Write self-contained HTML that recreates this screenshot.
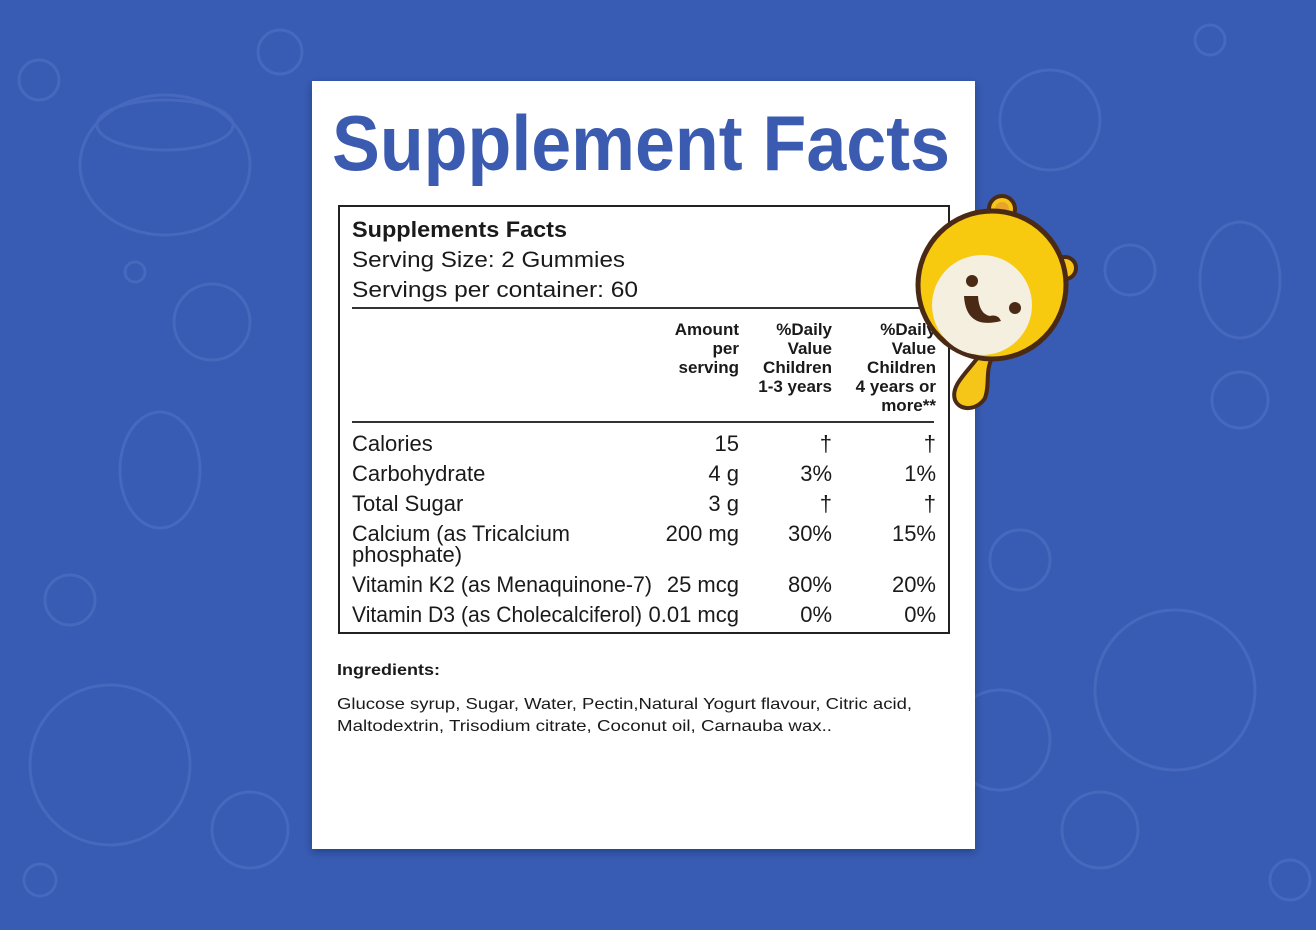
<!DOCTYPE html>
<html><head><meta charset="utf-8"><style>
html,body{margin:0;padding:0;width:1316px;height:930px;overflow:hidden;background:#385cb3}
svg{display:block}
</style></head><body>
<svg width="1316" height="930" viewBox="0 0 1316 930" xmlns="http://www.w3.org/2000/svg">
<defs><filter id="sh" x="-10%" y="-10%" width="120%" height="120%"><feDropShadow dx="0" dy="3" stdDeviation="4" flood-color="#102050" flood-opacity="0.45"/></filter></defs>
<rect width="1316" height="930" fill="#385cb3"/>
<g fill="none" stroke="#4a6cc0" stroke-width="3" opacity="0.8">
<circle cx="39" cy="80" r="20"/><circle cx="280" cy="52" r="22"/><circle cx="135" cy="272" r="10"/>
<ellipse cx="165" cy="165" rx="85" ry="70"/><ellipse cx="165" cy="125" rx="68" ry="25"/>
<circle cx="212" cy="322" r="38"/><circle cx="110" cy="765" r="80"/><circle cx="250" cy="830" r="38"/>
<circle cx="40" cy="880" r="16"/><circle cx="1130" cy="270" r="25"/><circle cx="1175" cy="690" r="80"/>
<circle cx="1100" cy="830" r="38"/><circle cx="1240" cy="400" r="28"/><circle cx="1290" cy="880" r="20"/>
<ellipse cx="1240" cy="280" rx="40" ry="58"/><ellipse cx="160" cy="470" rx="40" ry="58"/>
<circle cx="1050" cy="120" r="50"/><circle cx="1210" cy="40" r="15"/><circle cx="70" cy="600" r="25"/>
<circle cx="1020" cy="560" r="30"/><circle cx="1000" cy="740" r="50"/>
</g>
<rect x="312" y="81" width="663" height="768" fill="#fff" filter="url(#sh)"/>
<text x="332" y="170" textLength="618" lengthAdjust="spacingAndGlyphs" font-family="Liberation Sans, sans-serif" font-weight="bold" font-size="78" fill="#3a5bb0">Supplement Facts</text>
<rect x="339" y="206" width="610" height="427" fill="none" stroke="#222" stroke-width="2"/>
<g font-family="Liberation Sans, sans-serif" fill="#1a1a1a">
<text x="352" y="237" font-weight="bold" font-size="22" textLength="215" lengthAdjust="spacingAndGlyphs">Supplements Facts</text>
<text x="352" y="267" font-size="22" textLength="273" lengthAdjust="spacingAndGlyphs">Serving Size: 2 Gummies</text>
<text x="352" y="297" font-size="22" textLength="286" lengthAdjust="spacingAndGlyphs">Servings per container: 60</text>
<line x1="352" y1="308" x2="948" y2="308" stroke="#333" stroke-width="2"/>
<line x1="352" y1="422" x2="934" y2="422" stroke="#333" stroke-width="2"/>
<g font-weight="bold" font-size="17" text-anchor="end">
<text x="739" y="335">Amount</text><text x="739" y="354">per</text><text x="739" y="373">serving</text>
<text x="832" y="335">%Daily</text><text x="832" y="354">Value</text><text x="832" y="373">Children</text><text x="832" y="392">1-3 years</text>
<text x="936" y="335">%Daily</text><text x="936" y="354">Value</text><text x="936" y="373">Children</text><text x="936" y="392">4 years or</text><text x="936" y="411">more**</text>
</g>
<g font-size="22">
<text x="352" y="451">Calories</text>
<text x="352" y="481">Carbohydrate</text>
<text x="352" y="511">Total Sugar</text>
<text x="352" y="541" textLength="218" lengthAdjust="spacingAndGlyphs">Calcium (as Tricalcium</text>
<text x="352" y="562">phosphate)</text>
<text x="352" y="592" textLength="300" lengthAdjust="spacingAndGlyphs">Vitamin K2 (as Menaquinone-7)</text>
<text x="352" y="622" textLength="290" lengthAdjust="spacingAndGlyphs">Vitamin D3 (as Cholecalciferol)</text>
</g>
<g font-size="22" text-anchor="end">
<text x="739" y="451">15</text><text x="832" y="451">†</text><text x="936" y="451">†</text>
<text x="739" y="481">4 g</text><text x="832" y="481">3%</text><text x="936" y="481">1%</text>
<text x="739" y="511">3 g</text><text x="832" y="511">†</text><text x="936" y="511">†</text>
<text x="739" y="541">200 mg</text><text x="832" y="541">30%</text><text x="936" y="541">15%</text>
<text x="739" y="592">25 mcg</text><text x="832" y="592">80%</text><text x="936" y="592">20%</text>
<text x="739" y="622">0.01 mcg</text><text x="832" y="622">0%</text><text x="936" y="622">0%</text>
</g>
<text x="337" y="675" font-weight="bold" font-size="16" textLength="103" lengthAdjust="spacingAndGlyphs">Ingredients:</text>
<text x="337" y="709" font-size="16" textLength="575" lengthAdjust="spacingAndGlyphs">Glucose syrup, Sugar, Water, Pectin,Natural Yogurt flavour, Citric acid,</text>
<text x="337" y="731" font-size="16" textLength="495" lengthAdjust="spacingAndGlyphs">Maltodextrin, Trisodium citrate, Coconut oil, Carnauba wax..</text>
</g>
<g>
<path d="M982,352 C968,372 950,385 955,400 C960,412 978,410 985,398 C990,385 985,372 992,358 Z" fill="#f5c518" stroke="#4a2a14" stroke-width="4"/>
<circle cx="1002" cy="209" r="13" fill="#f5c518" stroke="#4a2a14" stroke-width="4"/>
<circle cx="1002" cy="209" r="7" fill="#e7a52a"/>
<circle cx="1065" cy="268" r="11" fill="#f5c518" stroke="#4a2a14" stroke-width="4"/>
<circle cx="992" cy="285" r="74" fill="#f7c90f" stroke="#4a2a14" stroke-width="5"/>
<circle cx="982" cy="305" r="50" fill="#f4efdf"/>
<circle cx="972" cy="281" r="6" fill="#4a2a14"/><circle cx="1015" cy="308" r="6" fill="#4a2a14"/>
<path d="M964,296 Q966,330 1001,321 Q998,314 990,316 Q979,314 978,296 Z" fill="#4a2a14"/>
</g>
</svg>
</body></html>
